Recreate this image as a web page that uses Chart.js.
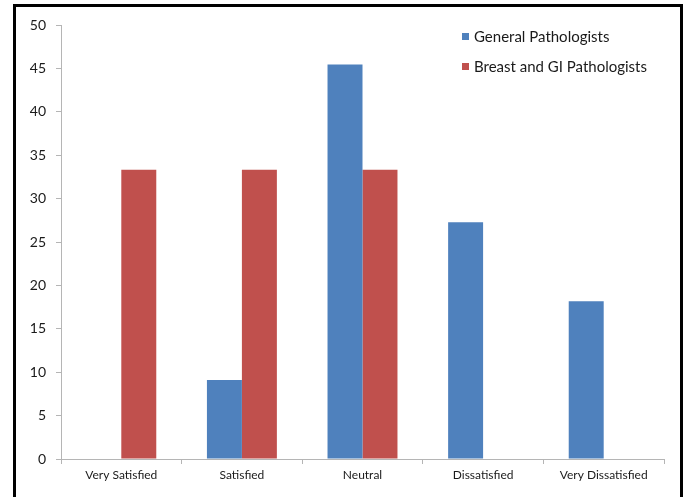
<!DOCTYPE html>
<html>
<head>
<meta charset="utf-8">
<script src="https://cdn.jsdelivr.net/npm/chart.js@4/dist/chart.umd.min.js"></script>
<style>
  html, body { margin: 0; padding: 0; background: #fff; }
  #wrap { position: relative; width: 683px; height: 497px; overflow: hidden; }
  #chart { position: absolute; left: 0; top: 0; }
  #frame {
    position: absolute; left: 13px; top: 4px; width: 670px; height: 520px;
    box-sizing: border-box; border: 3px solid #000; pointer-events: none;
  }
</style>
</head>
<body>
<div id="wrap">
  <canvas id="chart" width="683" height="497"></canvas>
  <div id="frame"></div>
</div>
<script>
const categories = ['Very Satisfied', 'Satisfied', 'Neutral', 'Dissatisfied', 'Very Dissatisfied'];
const generalPathologists = [0, 9.09, 45.45, 27.27, 18.18];
const breastGIPathologists = [33.33, 33.33, 33.33, 0, 0];
const yTicks = [0, 5, 10, 15, 20, 25, 30, 35, 40, 45, 50];

const BLUE = '#4F81BD';
const RED = '#C0504D';
const FONT = 'Lato, "Open Sans", sans-serif';
const AXIS = '#b5b5b5';

// Vertical legend drawn inside the plot, top right
const legendPlugin = {
  id: 'boxLegend',
  afterDraw(chart) {
    const ctx = chart.ctx;
    ctx.save();
    ctx.font = '15px ' + FONT;
    ctx.textBaseline = 'middle';
    ctx.textAlign = 'left';
    chart.data.datasets.forEach((ds, i) => {
      const y = 37 + i * 30;
      ctx.fillStyle = ds.backgroundColor;
      ctx.fillRect(462, y - 4, 7, 7);
      ctx.fillStyle = '#1a1a1a';
      ctx.fillText(ds.label, 474, y);
    });
    ctx.restore();
  }
};

new Chart(document.getElementById('chart'), {
  type: 'bar',
  data: {
    labels: categories,
    datasets: [
      { label: 'General Pathologists', data: generalPathologists, backgroundColor: BLUE, borderWidth: 0 },
      { label: 'Breast and GI Pathologists', data: breastGIPathologists, backgroundColor: RED, borderWidth: 0 }
    ]
  },
  options: {
    responsive: false,
    animation: false,
    events: [],
    layout: { padding: { left: 0, right: 19, top: 25, bottom: 0 } },
    datasets: { bar: { categoryPercentage: 0.58, barPercentage: 1 } },
    plugins: { legend: { display: false }, tooltip: { enabled: false } },
    scales: {
      x: {
        grid: { drawOnChartArea: false, drawTicks: true, tickLength: 5, color: AXIS, offset: true },
        border: { color: AXIS, width: 1 },
        ticks: { color: '#1a1a1a', font: { family: FONT, size: 12 }, padding: 4, maxRotation: 0 },
        afterFit(scale) { scale.height = 38; }
      },
      y: {
        min: 0, max: 50,
        grid: { drawOnChartArea: false, drawTicks: true, tickLength: 5, color: AXIS },
        border: { color: AXIS, width: 1 },
        afterBuildTicks(scale) { scale.ticks = yTicks.map(v => ({ value: v })); },
        ticks: { color: '#1a1a1a', font: { family: FONT, size: 14 }, padding: 10 },
        afterFit(scale) { scale.width = 61; }
      }
    }
  },
  plugins: [legendPlugin]
});
</script>
</body>
</html>
